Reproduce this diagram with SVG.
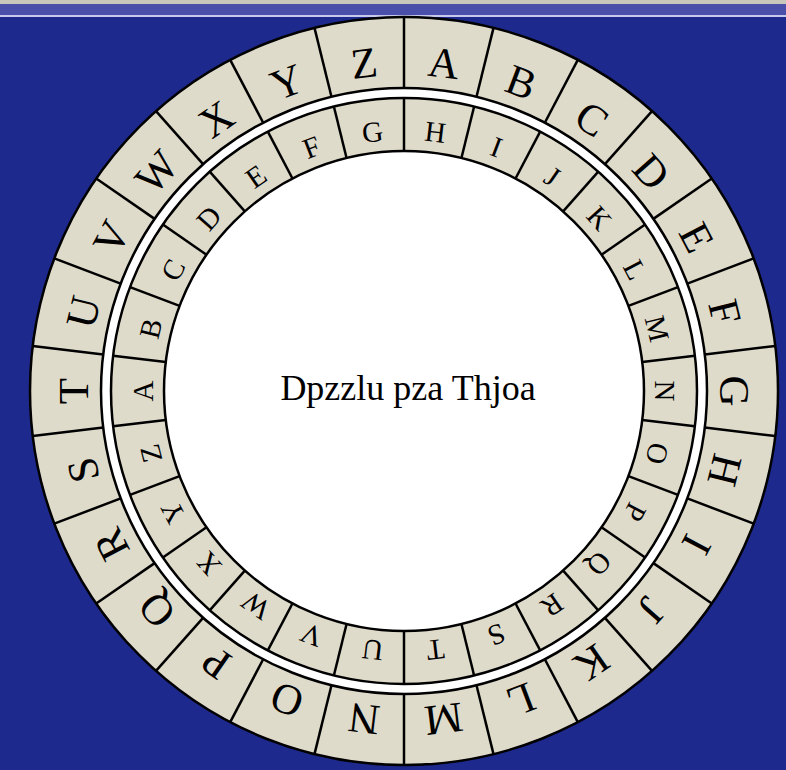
<svg xmlns="http://www.w3.org/2000/svg" xmlns:xlink="http://www.w3.org/1999/xlink" width="786" height="770" viewBox="0 0 786 770">
<style>
.ring{fill:#dfdbcb;stroke:#000;stroke-width:2.5}
.gap{fill:#fff;stroke:#000;stroke-width:2.5}
.div{stroke:#000;stroke-width:2.5}
.ol{font-family:"Liberation Serif","Times New Roman",serif;font-size:43px;fill:#000;text-anchor:middle}
.il{font-family:"Liberation Serif","Times New Roman",serif;font-size:29px;fill:#000;text-anchor:middle}
.title{font-family:"Liberation Serif","Times New Roman",serif;font-size:36px;fill:#000;text-anchor:middle}
</style>
<defs>
<line id="od" class="div" x1="404" y1="17" x2="404" y2="88"/>
<line id="id" class="div" x1="404" y1="98" x2="404" y2="151"/>
</defs>
<rect x="0" y="0" width="786" height="770" fill="#1d298c"/>
<rect x="0" y="0" width="786" height="4" fill="#c9c9bb"/>
<rect x="0" y="4" width="786" height="11" fill="#4a4fa9"/>
<rect x="0" y="15" width="786" height="2" fill="#c6c8ec"/>
<g id="outer-ring">
<circle class="ring" cx="404" cy="391" r="374"/>
<circle class="gap" cx="404" cy="391" r="303"/>
</g>
<g id="inner-ring">
<circle class="ring" cx="404" cy="391" r="293"/>
<circle class="gap" cx="404" cy="391" r="240"/>
</g>
<g id="dividers">
<use xlink:href="#od" transform="rotate(0 404 391)"/>
<use xlink:href="#od" transform="rotate(13.846 404 391)"/>
<use xlink:href="#od" transform="rotate(27.692 404 391)"/>
<use xlink:href="#od" transform="rotate(41.538 404 391)"/>
<use xlink:href="#od" transform="rotate(55.385 404 391)"/>
<use xlink:href="#od" transform="rotate(69.231 404 391)"/>
<use xlink:href="#od" transform="rotate(83.077 404 391)"/>
<use xlink:href="#od" transform="rotate(96.923 404 391)"/>
<use xlink:href="#od" transform="rotate(110.769 404 391)"/>
<use xlink:href="#od" transform="rotate(124.615 404 391)"/>
<use xlink:href="#od" transform="rotate(138.462 404 391)"/>
<use xlink:href="#od" transform="rotate(152.308 404 391)"/>
<use xlink:href="#od" transform="rotate(166.154 404 391)"/>
<use xlink:href="#od" transform="rotate(180 404 391)"/>
<use xlink:href="#od" transform="rotate(193.846 404 391)"/>
<use xlink:href="#od" transform="rotate(207.692 404 391)"/>
<use xlink:href="#od" transform="rotate(221.538 404 391)"/>
<use xlink:href="#od" transform="rotate(235.385 404 391)"/>
<use xlink:href="#od" transform="rotate(249.231 404 391)"/>
<use xlink:href="#od" transform="rotate(263.077 404 391)"/>
<use xlink:href="#od" transform="rotate(276.923 404 391)"/>
<use xlink:href="#od" transform="rotate(290.769 404 391)"/>
<use xlink:href="#od" transform="rotate(304.615 404 391)"/>
<use xlink:href="#od" transform="rotate(318.462 404 391)"/>
<use xlink:href="#od" transform="rotate(332.308 404 391)"/>
<use xlink:href="#od" transform="rotate(346.154 404 391)"/>
<use xlink:href="#id" transform="rotate(0 404 391)"/>
<use xlink:href="#id" transform="rotate(13.846 404 391)"/>
<use xlink:href="#id" transform="rotate(27.692 404 391)"/>
<use xlink:href="#id" transform="rotate(41.538 404 391)"/>
<use xlink:href="#id" transform="rotate(55.385 404 391)"/>
<use xlink:href="#id" transform="rotate(69.231 404 391)"/>
<use xlink:href="#id" transform="rotate(83.077 404 391)"/>
<use xlink:href="#id" transform="rotate(96.923 404 391)"/>
<use xlink:href="#id" transform="rotate(110.769 404 391)"/>
<use xlink:href="#id" transform="rotate(124.615 404 391)"/>
<use xlink:href="#id" transform="rotate(138.462 404 391)"/>
<use xlink:href="#id" transform="rotate(152.308 404 391)"/>
<use xlink:href="#id" transform="rotate(166.154 404 391)"/>
<use xlink:href="#id" transform="rotate(180 404 391)"/>
<use xlink:href="#id" transform="rotate(193.846 404 391)"/>
<use xlink:href="#id" transform="rotate(207.692 404 391)"/>
<use xlink:href="#id" transform="rotate(221.538 404 391)"/>
<use xlink:href="#id" transform="rotate(235.385 404 391)"/>
<use xlink:href="#id" transform="rotate(249.231 404 391)"/>
<use xlink:href="#id" transform="rotate(263.077 404 391)"/>
<use xlink:href="#id" transform="rotate(276.923 404 391)"/>
<use xlink:href="#id" transform="rotate(290.769 404 391)"/>
<use xlink:href="#id" transform="rotate(304.615 404 391)"/>
<use xlink:href="#id" transform="rotate(318.462 404 391)"/>
<use xlink:href="#id" transform="rotate(332.308 404 391)"/>
<use xlink:href="#id" transform="rotate(346.154 404 391)"/>
</g>
<g id="outer-letters">
<text class="ol" x="404" y="75" transform="rotate(6.923 404 391)">A</text>
<text class="ol" x="404" y="75" transform="rotate(20.769 404 391)">B</text>
<text class="ol" x="404" y="75" transform="rotate(34.615 404 391)">C</text>
<text class="ol" x="404" y="75" transform="rotate(48.462 404 391)">D</text>
<text class="ol" x="404" y="75" transform="rotate(62.308 404 391)">E</text>
<text class="ol" x="404" y="75" transform="rotate(76.154 404 391)">F</text>
<text class="ol" x="404" y="75" transform="rotate(90 404 391)">G</text>
<text class="ol" x="404" y="75" transform="rotate(103.846 404 391)">H</text>
<text class="ol" x="404" y="75" transform="rotate(117.692 404 391)">I</text>
<text class="ol" x="404" y="75" transform="rotate(131.538 404 391)">J</text>
<text class="ol" x="404" y="75" transform="rotate(145.385 404 391)">K</text>
<text class="ol" x="404" y="75" transform="rotate(159.231 404 391)">L</text>
<text class="ol" x="404" y="75" transform="rotate(173.077 404 391)">M</text>
<text class="ol" x="404" y="75" transform="rotate(186.923 404 391)">N</text>
<text class="ol" x="404" y="75" transform="rotate(200.769 404 391)">O</text>
<text class="ol" x="404" y="75" transform="rotate(214.615 404 391)">P</text>
<text class="ol" x="404" y="75" transform="rotate(228.462 404 391)">Q</text>
<text class="ol" x="404" y="75" transform="rotate(242.308 404 391)">R</text>
<text class="ol" x="404" y="75" transform="rotate(256.154 404 391)">S</text>
<text class="ol" x="404" y="75" transform="rotate(270 404 391)">T</text>
<text class="ol" x="404" y="75" transform="rotate(283.846 404 391)">U</text>
<text class="ol" x="404" y="75" transform="rotate(297.692 404 391)">V</text>
<text class="ol" x="404" y="75" transform="rotate(311.538 404 391)">W</text>
<text class="ol" x="404" y="75" transform="rotate(325.385 404 391)">X</text>
<text class="ol" x="404" y="75" transform="rotate(339.231 404 391)">Y</text>
<text class="ol" x="404" y="75" transform="rotate(353.077 404 391)">Z</text>
</g>
<g id="inner-letters">
<text class="il" x="404" y="140" transform="rotate(6.923 404 391)">H</text>
<text class="il" x="404" y="140" transform="rotate(20.769 404 391)">I</text>
<text class="il" x="404" y="140" transform="rotate(34.615 404 391)">J</text>
<text class="il" x="404" y="140" transform="rotate(48.462 404 391)">K</text>
<text class="il" x="404" y="140" transform="rotate(62.308 404 391)">L</text>
<text class="il" x="404" y="140" transform="rotate(76.154 404 391)">M</text>
<text class="il" x="404" y="140" transform="rotate(90 404 391)">N</text>
<text class="il" x="404" y="140" transform="rotate(103.846 404 391)">O</text>
<text class="il" x="404" y="140" transform="rotate(117.692 404 391)">P</text>
<text class="il" x="404" y="140" transform="rotate(131.538 404 391)">Q</text>
<text class="il" x="404" y="140" transform="rotate(145.385 404 391)">R</text>
<text class="il" x="404" y="140" transform="rotate(159.231 404 391)">S</text>
<text class="il" x="404" y="140" transform="rotate(173.077 404 391)">T</text>
<text class="il" x="404" y="140" transform="rotate(186.923 404 391)">U</text>
<text class="il" x="404" y="140" transform="rotate(200.769 404 391)">V</text>
<text class="il" x="404" y="140" transform="rotate(214.615 404 391)">W</text>
<text class="il" x="404" y="140" transform="rotate(228.462 404 391)">X</text>
<text class="il" x="404" y="140" transform="rotate(242.308 404 391)">Y</text>
<text class="il" x="404" y="140" transform="rotate(256.154 404 391)">Z</text>
<text class="il" x="404" y="140" transform="rotate(270 404 391)">A</text>
<text class="il" x="404" y="140" transform="rotate(283.846 404 391)">B</text>
<text class="il" x="404" y="140" transform="rotate(297.692 404 391)">C</text>
<text class="il" x="404" y="140" transform="rotate(311.538 404 391)">D</text>
<text class="il" x="404" y="140" transform="rotate(325.385 404 391)">E</text>
<text class="il" x="404" y="140" transform="rotate(339.231 404 391)">F</text>
<text class="il" x="404" y="140" transform="rotate(353.077 404 391)">G</text>
</g>
<g id="center-text">
<text class="title" x="408" y="400">Dpzzlu pza Thjoa</text>
</g>
</svg>
